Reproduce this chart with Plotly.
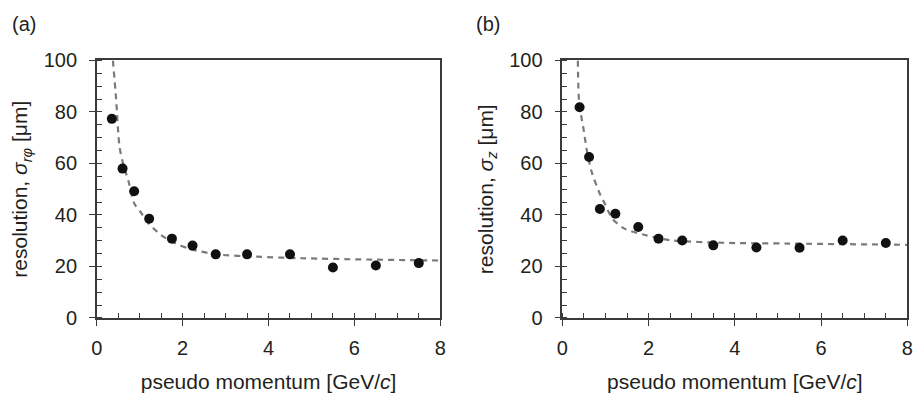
import plotly.graph_objects as go

# ---- data ----
p_a = [0.35, 0.6, 0.87, 1.22, 1.75, 2.23, 2.77, 3.5, 4.5, 5.5, 6.5, 7.5]
sig_a = [77.3, 58.0, 49.2, 38.5, 30.8, 28.1, 24.7, 24.7, 24.7, 19.6, 20.4, 21.3]

p_b = [0.4, 0.62, 0.87, 1.23, 1.76, 2.23, 2.78, 3.5, 4.5, 5.5, 6.5, 7.5]
sig_b = [81.8, 62.5, 42.3, 40.5, 35.3, 30.8, 30.1, 28.2, 27.4, 27.3, 30.1, 29.1]

fit_a_x = [0.375, 0.45, 0.53, 0.62, 0.74, 0.87, 1.03, 1.18, 1.49, 1.79, 2.18, 2.79, 3.71, 4.78, 6.3, 8.0]
fit_a_y = [100.0, 85.0, 66.5, 59.5, 53.0, 44.6, 40.9, 37.2, 32.3, 29.3, 26.8, 24.7, 23.8, 23.2, 22.7, 22.3]

fit_b_x = [0.36, 0.39, 0.487, 0.58, 0.68, 0.87, 0.98, 1.17, 1.44, 1.9, 2.51, 3.73, 5.25, 8.0]
fit_b_y = [100.0, 83.6, 73.8, 64.0, 56.7, 48.2, 44.5, 38.4, 34.7, 32.3, 30.2, 29.2, 28.9, 28.4]

x_ticks = [0, 2, 4, 6, 8]
y_ticks = [0, 20, 40, 60, 80, 100]

TXT = "#231f20"
AX = "#3a3a3a"
FONT = "Liberation Sans, Arial, sans-serif"

fig = go.Figure()

for i, (fx, fy, px, py) in enumerate([(fit_a_x, fit_a_y, p_a, sig_a), (fit_b_x, fit_b_y, p_b, sig_b)]):
    xa = "x" if i == 0 else "x2"
    ya = "y" if i == 0 else "y2"
    fig.add_trace(go.Scatter(x=fx, y=fy, mode="lines", xaxis=xa, yaxis=ya,
                             line=dict(color="#7a7a7a", width=2.2, dash="6px,5px", shape="spline", smoothing=0.8),
                             showlegend=False, hoverinfo="skip"))
    fig.add_trace(go.Scatter(x=px, y=py, mode="markers", xaxis=xa, yaxis=ya,
                             marker=dict(color="#111111", size=10),
                             showlegend=False, cliponaxis=False))

W, H = 919, 397
xdomA = [92 / W, 440 / W]
xdomB = [563.7 / W, 913.3 / W]
ydom = [(H - 325) / H, (H - 52.3) / H]

def xaxis(dom, anchor):
    return dict(domain=dom, anchor=anchor, range=[0, 8], tickvals=x_ticks,
                ticks="outside", ticklen=6, tickwidth=1.3, tickcolor=AX,
                showline=True, linecolor=AX, linewidth=1.5, mirror=True,
                showgrid=False, zeroline=False, ticklabelstandoff=5,
                minor=dict(dtick=0.5, ticks="inside", ticklen=5, tickwidth=1.3, tickcolor=AX, showgrid=False),
                tickfont=dict(family=FONT, size=20, color=TXT),
                title=dict(text="pseudo momentum [GeV/<i>c</i>]", font=dict(family=FONT, size=21, color=TXT), standoff=17))

def yaxis(anchor, title):
    return dict(domain=ydom, anchor=anchor, range=[0, 100], tickvals=y_ticks,
                ticks="outside", ticklen=6, tickwidth=1.3, tickcolor=AX,
                showline=True, linecolor=AX, linewidth=1.5, mirror=True,
                showgrid=False, zeroline=False, ticklabelstandoff=8,
                minor=dict(dtick=5, ticks="inside", ticklen=5, tickwidth=1.3, tickcolor=AX, showgrid=False),
                tickfont=dict(family=FONT, size=20, color=TXT),
                title=dict(text=title, font=dict(family=FONT, size=21, color=TXT), standoff=10))

fig.update_layout(
    width=W, height=H,
    margin=dict(l=0, r=0, t=0, b=0),
    paper_bgcolor="white", plot_bgcolor="white",
    xaxis=xaxis(xdomA, "y"),
    yaxis=yaxis("x", "resolution, <i>σ</i><sub><i>rφ</i></sub> [μm]"),
    xaxis2=xaxis(xdomB, "y2"),
    yaxis2=yaxis("x2", "resolution, <i>σ</i><sub><i>z</i></sub> [μm]"),
    annotations=[
        dict(text="(a)", x=4 / W, y=1.0, xref="paper", yref="paper", xanchor="left", yanchor="top",
             showarrow=False, font=dict(family=FONT, size=20, color=TXT)),
        dict(text="(b)", x=474 / W, y=1.0, xref="paper", yref="paper", xanchor="left", yanchor="top",
             showarrow=False, font=dict(family=FONT, size=20, color=TXT)),
    ],
)

fig.write_html("out.html")
